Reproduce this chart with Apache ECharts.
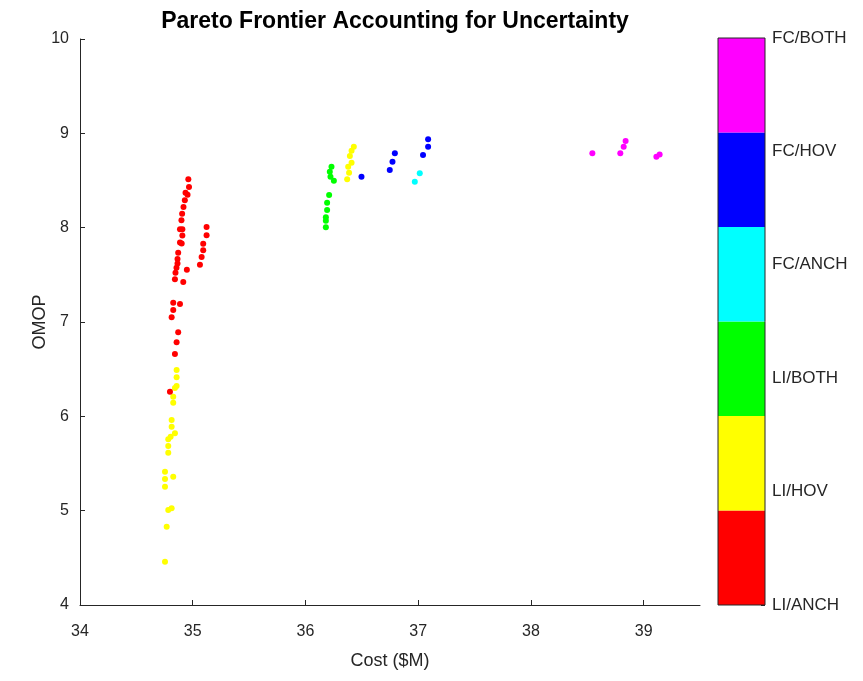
<!DOCTYPE html>
<html>
<head>
<meta charset="utf-8">
<script src="https://cdn.jsdelivr.net/npm/echarts@6/dist/echarts.min.js"></script>
<style>
  html, body { margin: 0; padding: 0; background: #fff; }
  #chart { width: 863px; height: 681px; }
</style>
</head>
<body>
<div id="chart"></div>
<script>
// Strategy classes, in colour-bar order (bottom to top)
const classNames = ['LI/ANCH', 'LI/HOV', 'LI/BOTH', 'FC/ANCH', 'FC/HOV', 'FC/BOTH'];
const classColors = ['#ff0000', '#ffff00', '#00ff00', '#00ffff', '#0000ff', '#ff00ff'];

// Cost ($M) / OMOP pairs for each class
const liAnch = [
  [34.961, 8.513], [34.967, 8.431], [34.936, 8.370], [34.954, 8.349], [34.930, 8.290],
  [34.918, 8.219], [34.906, 8.148], [34.900, 8.078], [34.887, 7.982], [34.908, 7.982],
  [34.908, 7.918], [34.887, 7.843], [34.902, 7.832], [34.871, 7.733], [34.865, 7.669],
  [34.865, 7.620], [34.856, 7.574], [34.847, 7.521], [34.948, 7.553], [34.842, 7.453],
  [34.916, 7.423],
  [35.123, 8.008], [35.123, 7.920], [35.093, 7.829], [35.093, 7.760], [35.079, 7.690],
  [35.064, 7.607],
  [34.827, 7.205], [34.887, 7.191], [34.827, 7.127], [34.813, 7.050], [34.871, 6.891],
  [34.857, 6.785], [34.842, 6.661], [34.798, 6.261]
];
const liHov = [
  [34.857, 6.491], [34.857, 6.414], [34.857, 6.322], [34.842, 6.300], [34.827, 6.208],
  [34.827, 6.145], [34.813, 5.961], [34.813, 5.890], [34.842, 5.820], [34.804, 5.784],
  [34.783, 5.757], [34.783, 5.686], [34.783, 5.615], [34.754, 5.413], [34.754, 5.336],
  [34.827, 5.360], [34.754, 5.254], [34.783, 5.007], [34.813, 5.025], [34.769, 4.830],
  [34.754, 4.459],
  [36.429, 8.859], [36.409, 8.816], [36.394, 8.760], [36.409, 8.689], [36.379, 8.646],
  [36.387, 8.583], [36.370, 8.513]
];
const liBoth = [
  [36.231, 8.646], [36.216, 8.593], [36.222, 8.540], [36.252, 8.498], [36.210, 8.346],
  [36.192, 8.265], [36.192, 8.187], [36.181, 8.110], [36.181, 8.074], [36.181, 8.004]
];
const fcAnch = [
  [37.014, 8.577], [36.970, 8.488]
];
const fcHov = [
  [36.497, 8.540], [36.793, 8.788], [36.772, 8.700], [36.748, 8.611],
  [37.088, 8.937], [37.088, 8.859], [37.043, 8.770]
];
const fcBoth = [
  [38.545, 8.788], [38.840, 8.919], [38.823, 8.859], [38.793, 8.788],
  [39.113, 8.752], [39.142, 8.776]
];
const classData = [liAnch, liHov, liBoth, fcAnch, fcHov, fcBoth];

// Axis tick values
const costTicks = [34, 35, 36, 37, 38, 39];
const omopTicks = [4, 5, 6, 7, 8, 9, 10];
const barTicks = [1, 2, 3, 4, 5, 6];

const axisColor = '#262626';
const font = 'Liberation Sans, Arial, Helvetica, sans-serif';

// Scatter series, drawn so the red points sit above the yellow ones
const drawOrder = [1, 0, 2, 3, 4, 5];
const scatterSeries = drawOrder.map(i => ({
  type: 'scatter',
  name: classNames[i],
  xAxisIndex: 0,
  yAxisIndex: 0,
  symbolSize: 6,
  itemStyle: { color: classColors[i], opacity: 1 },
  data: classData[i],
  silent: true
}));

// Colour bar: one stacked block per class
const colorBarSeries = classNames.map((name, i) => ({
  type: 'bar',
  name: name + ' bar',
  xAxisIndex: 1,
  yAxisIndex: 1,
  stack: 'cb',
  barWidth: '100%',
  barCategoryGap: 0,
  itemStyle: { color: classColors[i] },
  data: [1],
  silent: true
}));

const chart = echarts.init(document.getElementById('chart'), null, { renderer: 'canvas' });
chart.setOption({
  animation: false,
  backgroundColor: '#ffffff',
  title: {
    text: 'Pareto Frontier Accounting for Uncertainty',
    left: 390,
    textAlign: 'center',
    top: 5,
    textStyle: { fontFamily: font, fontSize: 23, fontWeight: 'bold', color: '#000' }
  },
  // Vertical axis title, placed next to the tick labels
  graphic: [{
    type: 'text',
    x: 40,
    y: 322,
    rotation: Math.PI / 2,
    style: {
      text: 'OMOP',
      fontFamily: font,
      fontSize: 18,
      fill: axisColor,
      align: 'center',
      verticalAlign: 'middle'
    },
    silent: true
  }],
  grid: [
    { left: 80, top: 39, width: 620, height: 566 },
    { left: 718, top: 38, width: 47, height: 567, show: true, borderColor: '#262626', borderWidth: 1, backgroundColor: 'transparent', z: 5 }
  ],
  xAxis: [
    {
      type: 'value', gridIndex: 0, min: 34, max: 39.5,
      name: 'Cost ($M)', nameLocation: 'middle', nameGap: 47,
      nameTextStyle: { fontFamily: font, fontSize: 18, color: axisColor },
      axisLine: { show: true, onZero: false, lineStyle: { color: axisColor, width: 1 } },
      axisTick: { show: true, inside: true, length: 5, customValues: costTicks, lineStyle: { color: axisColor } },
      axisLabel: { customValues: costTicks, fontFamily: font, fontSize: 16, color: axisColor, margin: 19 },
      splitLine: { show: false }
    },
    {
      type: 'category', gridIndex: 1, data: ['colorbar'],
      show: false
    }
  ],
  yAxis: [
    {
      type: 'value', gridIndex: 0, min: 4, max: 10,
      axisLine: { show: true, onZero: false, lineStyle: { color: axisColor, width: 1 } },
      axisTick: { show: true, inside: true, length: 5, customValues: omopTicks, lineStyle: { color: axisColor } },
      axisLabel: { customValues: omopTicks, fontFamily: font, fontSize: 16, color: axisColor, margin: 11 },
      splitLine: { show: false }
    },
    {
      type: 'value', gridIndex: 1, min: 0, max: 6,
      show: false
    },
    {
      type: 'value', gridIndex: 1, min: 1, max: 6, interval: 1, position: 'right',
      axisLine: { show: false },
      axisTick: { show: true, inside: true, length: 4, customValues: barTicks, lineStyle: { color: axisColor } },
      axisLabel: {
        customValues: barTicks,
        fontFamily: font, fontSize: 17, color: axisColor, margin: 7,
        formatter: v => classNames[Math.round(v) - 1] || ''
      },
      splitLine: { show: false }
    }
  ],
  series: scatterSeries.concat(colorBarSeries)
});
</script>
</body>
</html>
